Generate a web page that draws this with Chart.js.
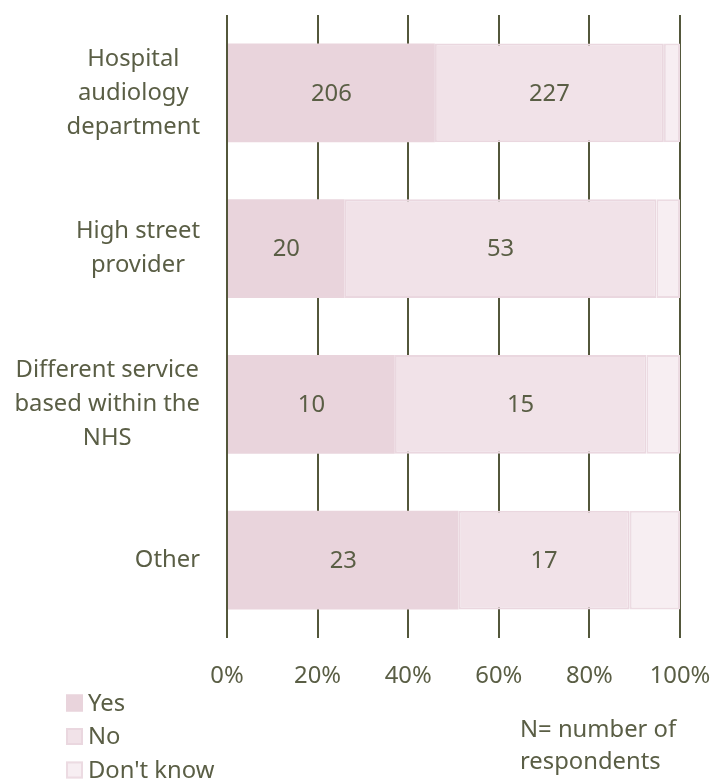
<!DOCTYPE html>
<html lang="en">
<head>
<meta charset="utf-8">
<title>Where hearing aid was fitted</title>
<script src="https://cdn.jsdelivr.net/npm/chart.js@4/dist/chart.umd.min.js"></script>
<style>
  html, body { margin: 0; padding: 0; background: #fff; }
  #wrap { width: 723px; height: 780px; }
</style>
</head>
<body>
<div id="wrap"><canvas id="myChart"></canvas></div>
<script>
// categories and counts
const categories = [
  ['Hospital', 'audiology', 'department'],
  ['High street', 'provider'],
  ['Different service', 'based within the', 'NHS'],
  ['Other']
];
const seriesNames = ['Yes', 'No', "Don't know"];
const yesCounts = [206, 20, 10, 23];
const noCounts = [227, 53, 15, 17];
const dontKnowCounts = [16, 4, 2, 5];
const xTicks = [0, 20, 40, 60, 80, 100];
const noteLines = ['N= number of', 'respondents'];

const textCol = '#5a5e45';
const gridCol = '#53573b';
const fills = ['#e9d4dc', '#f1e2e8', '#f7eef2'];
const borders = ['#e9d4dc', '#ead7df', '#ecdbe2'];
const FONT = '"Noto Sans", "Open Sans", sans-serif';
const FS = 23.8;

const counts = [yesCounts, noCounts, dontKnowCounts];
const totals = yesCounts.map((v, i) => v + noCounts[i] + dontKnowCounts[i]);
const pct = arr => arr.map((v, i) => v / totals[i] * 100);

const extras = {
  id: 'extras',
  afterDatasetsDraw(chart) {
    const ctx = chart.ctx;
    ctx.save();
    ctx.font = FS + 'px ' + FONT;
    ctx.fillStyle = textCol;
    ctx.textAlign = 'center';
    ctx.textBaseline = 'middle';
    // counts inside Yes / No segments
    for (let d = 0; d < 2; d++) {
      chart.getDatasetMeta(d).data.forEach((bar, i) => {
        ctx.fillText(String(counts[d][i]), (bar.x + bar.base) / 2, bar.y + 1);
      });
    }
    // category labels, lines centred among themselves, block right-aligned
    const ys = chart.scales.y;
    categories.forEach((lines, i) => {
      const cy = ys.getPixelForValue(i);
      const maxW = Math.max(...lines.map(l => ctx.measureText(l).width));
      const cx = 200 - maxW / 2;
      lines.forEach((l, k) => {
        ctx.fillText(l, cx, cy + (k - (lines.length - 1) / 2) * 34);
      });
    });
    // legend
    ctx.textAlign = 'left';
    seriesNames.forEach((name, k) => {
      const y = 703 + k * 33.5;
      ctx.fillStyle = fills[k];
      ctx.fillRect(66, y - 8.5, 17, 17);
      ctx.strokeStyle = borders[k];
      ctx.lineWidth = 2;
      ctx.strokeRect(67, y - 7.5, 15, 15);
      ctx.fillStyle = textCol;
      ctx.fillText(name, 88, y + 1);
    });
    // note
    noteLines.forEach((l, k) => ctx.fillText(l, 520, 730 + k * 32));
    ctx.restore();
  }
};

new Chart(document.getElementById('myChart'), {
  type: 'bar',
  data: {
    labels: categories,
    datasets: [0, 1, 2].map(k => ({
      label: seriesNames[k],
      data: pct(counts[k]),
      backgroundColor: fills[k],
      borderColor: borders[k],
      borderWidth: k === 0 ? 0 : 2,
      borderSkipped: false,
      categoryPercentage: 1,
      barPercentage: 0.635
    }))
  },
  options: {
    indexAxis: 'y',
    responsive: true,
    maintainAspectRatio: false,
    animation: false,
    layout: { padding: { top: 15, right: 43, bottom: 92, left: 0 } },
    plugins: { legend: { display: false }, tooltip: { enabled: false } },
    scales: {
      x: {
        stacked: true,
        min: 0,
        max: 100,
        afterBuildTicks(scale) { scale.ticks = xTicks.map(v => ({ value: v })); },
        afterFit(scale) {
          scale.height = 50;
          scale.paddingLeft = 0;
          scale.paddingRight = 0;
        },
        border: { display: false },
        grid: { color: gridCol, lineWidth: 2, drawTicks: false },
        ticks: {
          padding: 24,
          color: textCol,
          font: { size: FS, family: FONT },
          maxRotation: 0,
          callback: v => v + '%'
        }
      },
      y: {
        stacked: true,
        afterFit(scale) { scale.width = 227; },
        border: { display: false },
        grid: { display: false },
        ticks: { display: false }
      }
    }
  },
  plugins: [extras]
});
</script>
</body>
</html>
